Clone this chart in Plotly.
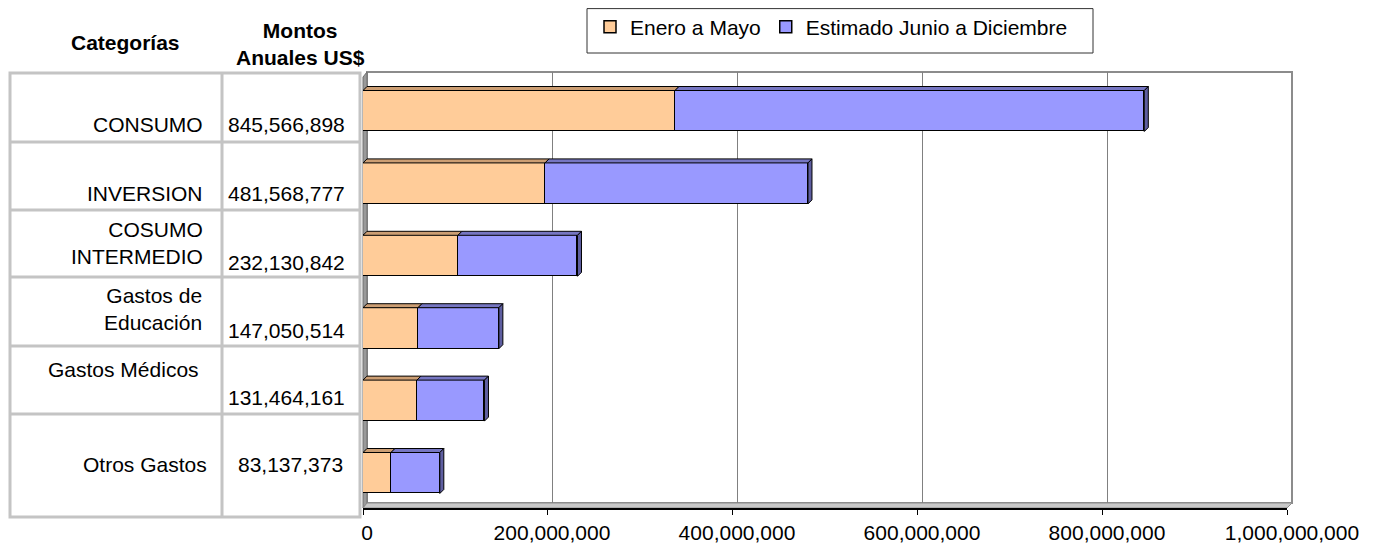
import plotly.graph_objects as go

# ---------------- data ----------------
categories = ["CONSUMO", "INVERSION", "COSUMO<br>INTERMEDIO", "Gastos de<br>Educación",
              "Gastos Médicos", "Otros Gastos"]
totals = [845566898, 481568777, 232130842, 147050514, 131464161, 83137373]
enero_mayo = [337.7e6, 197.0e6, 102.8e6, 59.5e6, 58.4e6, 30.3e6]
estimado = [t - e for t, e in zip(totals, enero_mayo)]
series_names = ["Enero a Mayo", "Estimado Junio a Diciembre"]
header_cat = "Categorías"
header_amt = "Montos<br>Anuales US$"
XMAX = 1e9
XSTEP = 2e8

# ---------------- styles / geometry ----------------
W, H = 1384, 544
OFF = 8  # page body margin compensation
FONT = "Liberation Sans, Arial, sans-serif"
FS = 21
ORANGE, BLUE = "#FFCC99", "#9999FF"
ORANGE_TOP, BLUE_TOP, BLUE_SIDE = "#CC9E73", "#7676C2", "#5E5EA0"

def fx(p):
    return (p - OFF) / W

def fy(p):
    return 1 - (p - OFF) / H

# back wall (grid) and front plane (bars) in screen pixels
BK_L, BK_R, BK_T, BK_B = 367, 1292, 72, 503
FR_L, FR_R, FR_T, FR_B = 363, 1287, 77, 508
CAT_PX = 72.4
FIRST_C = 111
Y_TOP = -(FIRST_C - FR_T) / CAT_PX
Y_BOT = Y_TOP + (FR_B - FR_T) / CAT_PX
BW = 0.566
DEPTH = 4
DX = DEPTH * XMAX / (FR_R - FR_L)
DY = DEPTH / CAT_PX

fig = go.Figure()

# invisible trace to hold the back-wall subplot
fig.add_trace(go.Scatter(x=[0], y=[0], mode="markers", marker=dict(opacity=0),
                         showlegend=False, hoverinfo="skip", xaxis="x", yaxis="y"))

fig.add_trace(go.Bar(x=enero_mayo, y=categories, orientation="h", name=series_names[0],
                     marker=dict(color=ORANGE, line=dict(color="black", width=1.5)),
                     width=BW, xaxis="x2", yaxis="y2"))
fig.add_trace(go.Bar(x=estimado, y=categories, orientation="h", name=series_names[1],
                     marker=dict(color=BLUE, line=dict(color="black", width=1.5)),
                     width=BW, xaxis="x2", yaxis="y2"))

shapes = []
# 3D walls
shapes.append(dict(type="rect", xref="paper", yref="paper", layer="below",
                   x0=fx(BK_L), x1=fx(BK_R), y0=fy(BK_B), y1=fy(BK_T),
                   fillcolor="white", line=dict(color="#8c8c8c", width=2)))
shapes.append(dict(type="path", xref="paper", yref="paper", layer="below",
                   path=f"M{fx(FR_L)},{fy(FR_T)} L{fx(BK_L)},{fy(BK_T)} L{fx(BK_L)},{fy(BK_B)} L{fx(FR_L)},{fy(FR_B)} Z",
                   fillcolor="#9a9a9a", line=dict(color="#6e6e6e", width=1)))
shapes.append(dict(type="path", xref="paper", yref="paper", layer="below",
                   path=f"M{fx(FR_L)},{fy(FR_B)} L{fx(BK_L)},{fy(BK_B)} L{fx(BK_R)},{fy(BK_B)} L{fx(FR_R)},{fy(FR_B)} Z",
                   fillcolor="#c8c8c8", line=dict(color="#8c8c8c", width=1)))

# 3D faces of bars
for i, (o, b) in enumerate(zip(enero_mayo, estimado)):
    t = o + b
    yt = i - BW / 2
    yb = i + BW / 2
    shapes.append(dict(type="path", xref="x2", yref="y2", layer="above",
                       path=f"M0,{yt} L{o},{yt} L{o+DX},{yt-DY} L{DX},{yt-DY} Z",
                       fillcolor=ORANGE_TOP, line=dict(color="black", width=1)))
    shapes.append(dict(type="path", xref="x2", yref="y2", layer="above",
                       path=f"M{o},{yt} L{t},{yt} L{t+DX},{yt-DY} L{o+DX},{yt-DY} Z",
                       fillcolor=BLUE_TOP, line=dict(color="black", width=1)))
    shapes.append(dict(type="path", xref="x2", yref="y2", layer="above",
                       path=f"M{t},{yt} L{t+DX},{yt-DY} L{t+DX},{yb-DY} L{t},{yb} Z",
                       fillcolor=BLUE_SIDE, line=dict(color="black", width=1)))

# table grid
TBL_L, TBL_M, TBL_R, TBL_T, TBL_B = 10, 222, 360, 73, 517
row_lines = [142, 210, 277, 346, 414]
TCOL = "#c4c4c4"
shapes.append(dict(type="rect", xref="paper", yref="paper", x0=fx(TBL_L), x1=fx(TBL_R),
                   y0=fy(TBL_B), y1=fy(TBL_T), line=dict(color=TCOL, width=3)))
shapes.append(dict(type="line", xref="paper", yref="paper", x0=fx(TBL_M), x1=fx(TBL_M),
                   y0=fy(TBL_B), y1=fy(TBL_T), line=dict(color=TCOL, width=3)))
for r in row_lines:
    shapes.append(dict(type="line", xref="paper", yref="paper", x0=fx(TBL_L), x1=fx(TBL_R),
                       y0=fy(r), y1=fy(r), line=dict(color=TCOL, width=3)))

# legend box
shapes.append(dict(type="rect", xref="paper", yref="paper", x0=fx(587), x1=fx(1093),
                   y0=fy(53), y1=fy(8.6), line=dict(color="#333333", width=1)))

# table text
ann = []
label_pos = [(205, 124), (205, 193), (205, 243), (204, 309), (201, 369), (209, 464)]
value_pos = [(226, 124), (226, 193), (226, 262), (226, 330), (226, 397), (236, 464)]
for cat, tot, (lx, ly), (vx, vy) in zip(categories, totals, label_pos, value_pos):
    ann.append(dict(text=cat, x=fx(lx), y=fy(ly), xref="paper", yref="paper",
                    xanchor="right", yanchor="middle", align="right", showarrow=False,
                    font=dict(family=FONT, size=FS, color="black")))
    ann.append(dict(text=f"{tot:,}", x=fx(vx), y=fy(vy), xref="paper", yref="paper",
                    xanchor="left", yanchor="middle", showarrow=False,
                    font=dict(family=FONT, size=FS, color="black")))
ann.append(dict(text=f"<b>{header_cat}</b>", x=fx(125), y=fy(42), xref="paper", yref="paper",
                xanchor="center", yanchor="middle", showarrow=False,
                font=dict(family=FONT, size=FS, color="black")))
ann.append(dict(text=f"<b>{header_amt}</b>", x=fx(300), y=fy(44), xref="paper", yref="paper",
                xanchor="center", yanchor="middle", showarrow=False,
                font=dict(family=FONT, size=FS, color="black")))

fig.update_layout(
    width=W, height=H,
    margin=dict(l=0, r=0, t=0, b=0, autoexpand=False),
    paper_bgcolor="white", plot_bgcolor="rgba(0,0,0,0)",
    barmode="stack", bargap=0,
    font=dict(family=FONT, size=FS, color="black"),
    shapes=shapes, annotations=ann,
    showlegend=True,
    legend=dict(orientation="h", x=fx(590), y=fy(27), xanchor="left", yanchor="middle",
                bgcolor="rgba(0,0,0,0)", borderwidth=0, font=dict(family=FONT, size=FS),
                traceorder="normal"),
    xaxis=dict(domain=[fx(BK_L), fx(BK_R)], range=[0, XMAX], dtick=XSTEP, tick0=0,
               anchor="y", showgrid=True, gridcolor="#808080", gridwidth=1,
               zeroline=False, showline=False, ticks="", tickformat=",",
               tickfont=dict(family=FONT, size=FS, color="black"),
               ticklabelstandoff=15, automargin=False, fixedrange=True),
    yaxis=dict(domain=[fy(BK_B), fy(BK_T)], range=[0, 1], anchor="x",
               showgrid=False, zeroline=False, showticklabels=False, ticks="",
               automargin=False, fixedrange=True),
    xaxis2=dict(domain=[fx(FR_L), fx(FR_R)], range=[0, XMAX], dtick=XSTEP, tick0=0,
                anchor="y2", showgrid=False, zeroline=False, showline=True,
                linecolor="black", linewidth=1.5, ticks="outside", ticklen=5,
                tickcolor="black", tickwidth=1, showticklabels=False,
                automargin=False, fixedrange=True),
    yaxis2=dict(domain=[fy(FR_B), fy(FR_T)], range=[Y_BOT, Y_TOP], anchor="x2",
                type="category", showgrid=False, zeroline=False, showticklabels=False,
                ticks="", automargin=False, fixedrange=True),
)

fig.write_html("out.html")
